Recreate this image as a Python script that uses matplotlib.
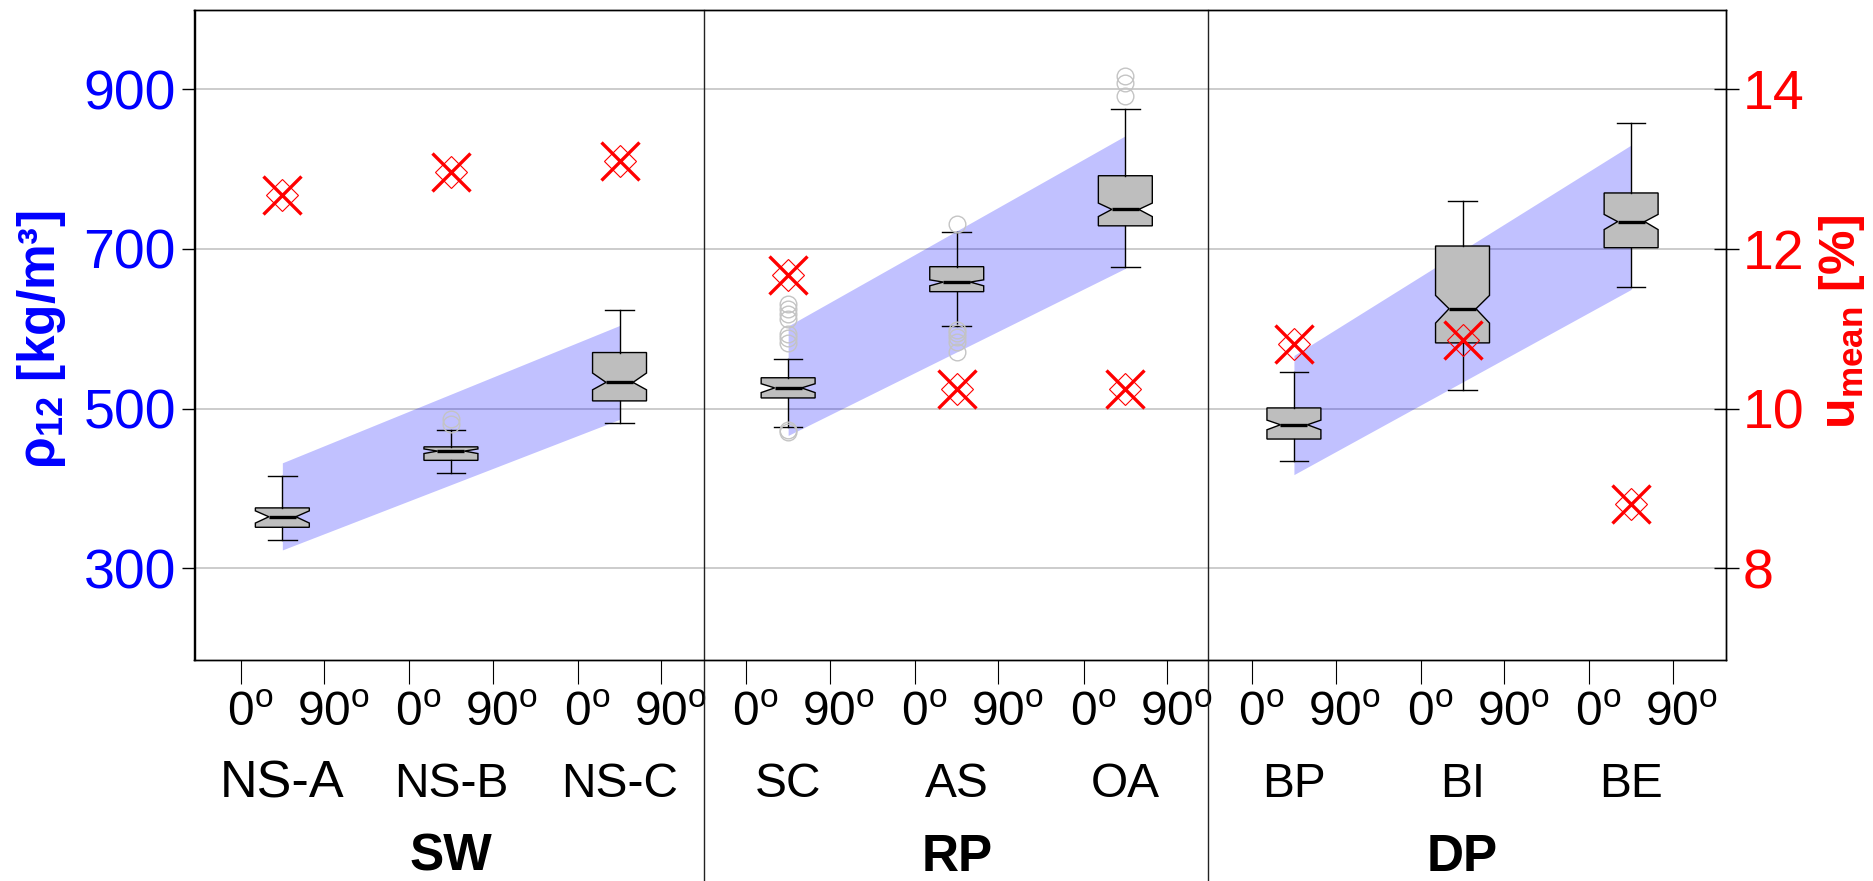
import matplotlib
matplotlib.use('Agg')
import matplotlib.pyplot as plt
import matplotlib.transforms as mtransforms

plt.rcParams['font.family'] = ['Liberation Sans', 'DejaVu Sans']
plt.rcParams['mathtext.fontset'] = 'custom'
plt.rcParams['mathtext.rm'] = 'Liberation Sans'
plt.rcParams['mathtext.bf'] = 'Liberation Sans:bold'
plt.rcParams['mathtext.it'] = 'Liberation Sans:italic'

# ---------------- data ----------------
categories = ['NS-A', 'NS-B', 'NS-C', 'SC', 'AS', 'OA', 'BP', 'BI', 'BE']
groups = ['SW', 'RP', 'DP']
group_first = [0, 3, 6]
group_last = [2, 5, 8]
group_center = [1, 4, 7]
angle_labels = ['0$^{\\mathregular{o}}$', '90$^{\\mathregular{o}}$']

whislo = [334.8, 419.3, 482.1, 476.3, 603.5, 676.8, 434.4, 523.2, 652.5]
q1 = [351.2, 435.1, 509.6, 513.3, 646.5, 729.0, 461.8, 582.3, 701.6]
med = [364.4, 446.7, 532.8, 525.9, 658.5, 749.6, 479.7, 625.1, 734.3]
q3 = [375.5, 452.0, 570.2, 538.6, 677.8, 791.8, 500.8, 703.7, 770.2]
whishi = [415.6, 473.5, 623.5, 562.3, 721.0, 876.0, 545.7, 760.1, 857.7]
notch_lo = [356.5, 443.6, 523.5, 520.0, 653.8, 740.6, 473.4, 607.1, 724.3]
notch_hi = [371.8, 449.4, 544.5, 531.1, 661.3, 757.5, 485.5, 641.8, 743.3]
outliers = [[], [481.0, 487.0], [],
            [631.0, 624.4, 618.1, 611.9, 593.1, 588.1, 581.8, 473.4, 471.0],
            [731.5, 598.6, 594.5, 590.2, 584.0, 571.4],
            [916.2, 907.9, 891.1], [], [], []]
u_mean = [12.68, 12.97, 13.10, 11.67, 10.24, 10.24, 10.81, 10.86, 8.81]

band_low_first = [322.8, 466.3, 417.2]
band_low_last = [486.4, 675.7, 649.3]
band_high_first = [432.0, 603.5, 566.5]
band_high_last = [604.1, 841.9, 830.3]

rho_ticks = [300, 500, 700, 900]
u_ticks = [8, 10, 12, 14]
rho_lim = (185.5, 1000.0)

# ---------------- figure ----------------
W, H = 1873, 881
fig = plt.figure(figsize=(W / 100, H / 100), dpi=100)
ax = fig.add_axes([194.5 / W, 1 - 659.5 / H, (1725.7 - 194.5) / W, (659.5 - 9.6) / H])

x = list(range(len(categories)))
ax.set_xlim(-0.521, 8.561)
ax.set_ylim(*rho_lim)

# grid
ax.set_yticks(rho_ticks)
ax.yaxis.grid(True, color='#c4c4c4', linewidth=1.2, zorder=0)
ax.set_axisbelow(True)

# bands
for g in range(len(groups)):
    xs = [group_first[g], group_last[g]]
    ax.fill_between(xs, [band_low_first[g], band_low_last[g]],
                    [band_high_first[g], band_high_last[g]],
                    color='#0000ff', alpha=0.245, linewidth=0, zorder=1.5)

# boxplots
stats = []
for i, c in enumerate(categories):
    stats.append(dict(label=c, whislo=whislo[i], q1=q1[i], med=med[i], q3=q3[i],
                      whishi=whishi[i], cilo=notch_lo[i], cihi=notch_hi[i],
                      fliers=outliers[i]))
ax.bxp(stats, positions=x, widths=0.32, capwidths=0.17, shownotches=True,
       patch_artist=True, manage_ticks=False, zorder=3,
       boxprops=dict(facecolor='#bebebe', edgecolor='black', linewidth=1.0),
       medianprops=dict(color='black', linewidth=2.4),
       whiskerprops=dict(color='black', linewidth=1.0),
       capprops=dict(color='black', linewidth=1.0),
       flierprops=dict(marker='o', markerfacecolor='none', markeredgecolor='#c4c4c4',
                       markersize=12, markeredgewidth=1.0))

# x ticks
xt, xl = [], []
for i in x:
    xt += [i - 0.247, i + 0.247]
    xl += angle_labels
ax.set_xticks(xt)
ax.set_xticklabels(xl)
ax.tick_params(axis='x', direction='out', length=17, width=0.8, labelsize=34.5, pad=6,
               color='black')
ax.tick_params(axis='y', direction='out', length=9.5, width=1.0, labelsize=40, pad=4,
               color='black', labelcolor='#0000ff')
for sp in ax.spines.values():
    sp.set_linewidth(1.0)
    sp.set_color('black')

# secondary axis
ax2 = ax.twinx()
ax2.set_ylim(8 + (rho_lim[0] - 300) / 100, 8 + (rho_lim[1] - 300) / 100)
ax2.set_yticks(u_ticks)
ax2.tick_params(axis='y', direction='inout', length=18, width=1.0, labelsize=40, pad=3,
                color='black', labelcolor='#ff0000')
ax2.plot(x, u_mean, linestyle='none', marker='x', color='#ff0000', markersize=28,
         markeredgewidth=2.4, zorder=5)
ax2.plot(x, u_mean, linestyle='none', marker='D', markerfacecolor='none',
         markeredgecolor='#ff0000', markersize=16, markeredgewidth=0.8, zorder=5)
for sp in ax2.spines.values():
    sp.set_linewidth(1.0)

# category and group labels
xtr = ax.get_xaxis_transform()
for i, c in enumerate(categories):
    ax.text(i, -0.1916, c, transform=xtr, ha='center', va='center',
            fontsize=37.5 if i == 0 else 34.5, color='black')
for g, name in enumerate(groups):
    ax.text(group_center[g], -0.304, name, transform=xtr, ha='center', va='center',
            fontsize=37, fontweight='bold', color='black')

# dividers
btr = mtransforms.blended_transform_factory(ax.transData, fig.transFigure)
for d in [2.5, 5.49]:
    ax.plot([d, d], [0, 1 - 9.6 / H], transform=btr, color='#222222', linewidth=1.0,
            clip_on=False, zorder=6)

# axis labels
fig.text(42 / W, 1 - 340 / H, 'ρ$_{\\mathbf{12}}$ [kg/m³]', rotation=90,
         ha='center', va='center', fontsize=37, fontweight='bold', color='#0000ff')
fig.text(1842 / W, 1 - 321.5 / H, 'u$_{\\mathbf{mean}}$ [%]', rotation=90,
         ha='center', va='center', fontsize=36, fontweight='bold', color='#ff0000')

# shift x tick labels so the number is centred on the tick
off = mtransforms.ScaledTranslation(9 / 100, 0, fig.dpi_scale_trans)
for lab in ax.get_xticklabels():
    lab.set_transform(lab.get_transform() + off)

fig.savefig('out.png', dpi=100)
